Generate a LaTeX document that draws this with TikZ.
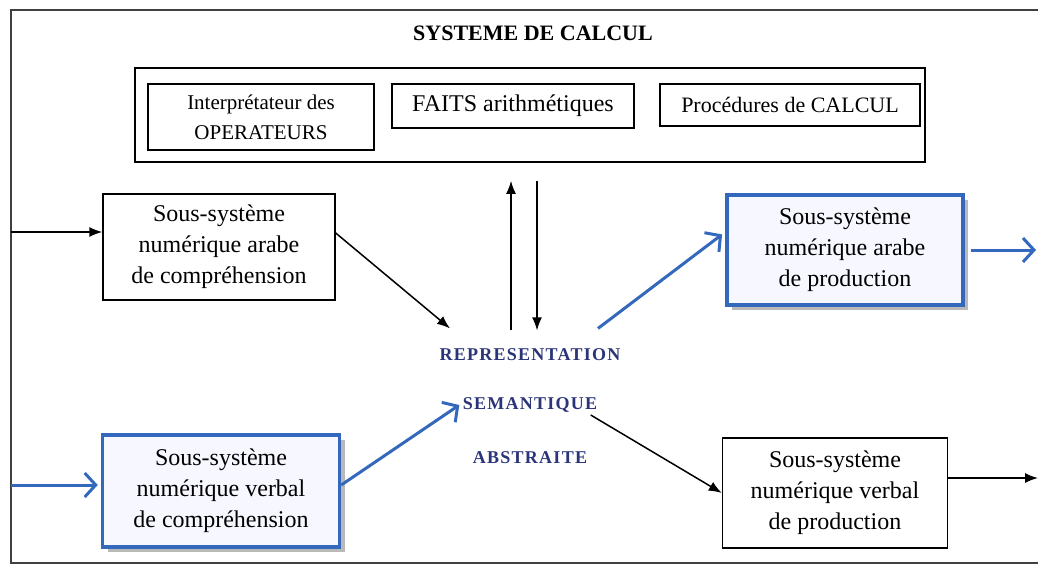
\documentclass[tikz,border=0pt]{standalone}
\usepackage{fontspec}
\setmainfont{Liberation Serif}
\usetikzlibrary{positioning,arrows.meta,shadows}
\definecolor{boxblue}{RGB}{52,104,188}
\definecolor{labelnavy}{RGB}{42,52,120}

\begin{document}
\begin{tikzpicture}[x=1pt,y=-1pt,
    sub/.style={draw, line width=1.4pt, minimum width=232pt, minimum height=106pt, align=center, font=\fontsize{24}{31}\selectfont},
    subblue/.style={sub, draw=boxblue, line width=3.5pt, fill=blue!3, drop shadow={shadow xshift=5pt, shadow yshift=-5pt, fill=gray!55, opacity=1}},
    calcbox/.style={draw, line width=1.4pt, align=center},
    semlabel/.style={text=labelnavy, font=\fontsize{18}{20}\selectfont\bfseries\addfontfeatures{LetterSpace=7}},
    arr/.style={-{Latex[length=13pt,width=10pt]}, line width=1.5pt},
    barr/.style={-{Straight Barb[length=11pt,width=24pt]}, draw=boxblue, line width=3pt},
]
    \useasboundingbox (0,0) rectangle (1038,568);
    \draw[line width=1.2pt, black!75] (1038,10) -- (11,10) -- (11,563) -- (1038,563);

    \coordinate (inA) at (11,232);
    \coordinate (inB) at (11,485);
    \coordinate (outA) at (1036,250);
    \coordinate (outB) at (1038,478);

    \node[font=\fontsize{22}{24}\selectfont\bfseries] (title) at (533,33) {SYSTEME DE CALCUL};
    \node[draw, line width=1.6pt, minimum width=790pt, minimum height=94pt] (calcul) at (530,115) {};
    \node[calcbox, minimum width=226pt, minimum height=66pt, font=\fontsize{21}{30}\selectfont] (interp) at (261,117) {Interprétateur des\\OPERATEURS};
    \node[calcbox, minimum width=242pt, minimum height=44pt, font=\fontsize{24}{26}\selectfont] (faits) at (513,106) {FAITS arithmétiques};
    \node[calcbox, minimum width=260pt, minimum height=42pt, font=\fontsize{22}{24}\selectfont] (proc) at (790,105) {Procédures de CALCUL};

    \node[sub] (arabcomp) at (219,247) {Sous-système\\numérique arabe\\de compréhension};
    \node[subblue, minimum width=237pt, minimum height=112pt] (verbcomp) at (221,491) {Sous-système\\numérique verbal\\de compréhension};
    \node[subblue, minimum width=236pt, minimum height=110pt] (arabprod) at (845,250) {Sous-système\\numérique arabe\\de production};
    \node[sub, minimum width=225pt, minimum height=110pt] (verbprod) at (835,493) {Sous-système\\numérique verbal\\de production};

    \node[semlabel] (rep) at (530,355) {REPRESENTATION};
    \node[semlabel] (sem) at (530,405) {SEMANTIQUE};
    \node[semlabel] (abs) at (530,458) {ABSTRAITE};

    \coordinate (upfoot) at ([xshift=-19pt,yshift=15pt]rep.north);
    \coordinate (downfoot) at ([xshift=7pt,yshift=15pt]rep.north);

    \draw[arr] (inA) -- (inA -| arabcomp.west);
    \draw[barr, shorten >=3pt] (inB) -- (inB -| verbcomp.west);
    \draw[arr] ([yshift=14pt]arabcomp.east) -- ([xshift=-80pt,yshift=17pt]rep.north);
    \draw[barr] ([yshift=6pt]verbcomp.east) -- (sem.west);
    \draw[arr, shorten >=18pt] (upfoot) -- (upfoot |- calcul.south);
    \draw[arr, shorten <=18pt] (downfoot |- calcul.south) -- (downfoot);
    \draw[barr, shorten >=4pt] ([xshift=68pt,yshift=17pt]rep.north) -- ([yshift=18pt]arabprod.west);
    \draw[arr] ([xshift=-10pt,yshift=-10pt]sem.east) -- (verbprod.west);
    \draw[barr, shorten <=6pt] (arabprod.east |- outA) -- (outA);
    \draw[arr] (verbprod.east |- outB) -- (outB);
\end{tikzpicture}
\end{document}
